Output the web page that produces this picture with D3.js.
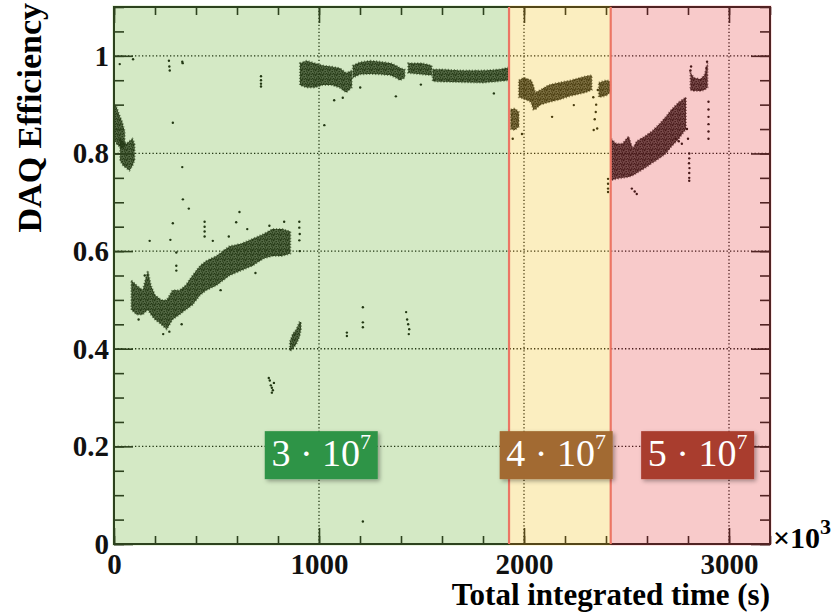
<!DOCTYPE html>
<html>
<head>
<meta charset="utf-8">
<script src="https://cdn.jsdelivr.net/npm/d3@7"></script>
<style>
  body { margin: 0; background: #fff; }
  svg { display: block; }
</style>
</head>
<body>
<div id="chart"></div>
<script>
// DAQ efficiency vs total integrated time (time axis in units of 10^3 s)
const xTicks = [0, 1000, 2000, 3000]
const yTicks = [0, 0.2, 0.4, 0.6, 0.8, 1]
const regionEdges = [0, 1927, 2423, 3200]
const regionLabels = ['3', '4', '5']

// dense parts of the scatter: [time, low, high]
const bandSegments = [
  [[0, 0.83, 0.90], [12, 0.82, 0.895], [25, 0.815, 0.88], [40, 0.81, 0.865], [52, 0.815, 0.845]],
  [[30, 0.785, 0.83], [45, 0.775, 0.825], [60, 0.77, 0.82], [75, 0.765, 0.825], [90, 0.775, 0.83], [100, 0.785, 0.82]],
  [[85, 0.48, 0.54], [110, 0.47, 0.53], [140, 0.47, 0.52], [165, 0.48, 0.56], [180, 0.47, 0.53],
    [200, 0.46, 0.51], [230, 0.45, 0.50], [257, 0.44, 0.50], [286, 0.46, 0.52], [320, 0.47, 0.52],
    [350, 0.48, 0.53], [383, 0.49, 0.55], [420, 0.51, 0.57], [451, 0.52, 0.58], [500, 0.53, 0.59],
    [563, 0.55, 0.61], [620, 0.56, 0.615], [675, 0.57, 0.625], [730, 0.585, 0.635], [773, 0.59, 0.645],
    [820, 0.59, 0.645], [860, 0.595, 0.64]],
  [[858, 0.395, 0.415], [872, 0.40, 0.43], [890, 0.41, 0.44], [905, 0.425, 0.455], [912, 0.44, 0.455]],
  [[907, 0.94, 0.985], [940, 0.935, 0.99], [980, 0.935, 0.985], [1017, 0.94, 0.98], [1060, 0.94, 0.978],
    [1100, 0.935, 0.975], [1133, 0.925, 0.965], [1160, 0.935, 0.97]],
  [[1165, 0.955, 0.98], [1200, 0.962, 0.987], [1250, 0.963, 0.99], [1300, 0.962, 0.988], [1350, 0.96, 0.985],
    [1376, 0.955, 0.98], [1395, 0.95, 0.975], [1418, 0.955, 0.972]],
  [[1435, 0.965, 0.985], [1500, 0.962, 0.985], [1550, 0.96, 0.98]],
  [[1555, 0.948, 0.972], [1600, 0.947, 0.972], [1700, 0.946, 0.97], [1800, 0.945, 0.97], [1880, 0.948, 0.972],
    [1925, 0.95, 0.976]],
  [[1935, 0.85, 0.89], [1955, 0.848, 0.892], [1975, 0.855, 0.885]],
  [[1975, 0.915, 0.95], [2000, 0.912, 0.955], [2035, 0.905, 0.95], [2045, 0.89, 0.94], [2055, 0.89, 0.925],
    [2080, 0.9, 0.93], [2120, 0.905, 0.94], [2170, 0.91, 0.945], [2230, 0.918, 0.95], [2300, 0.925, 0.958],
    [2330, 0.93, 0.96]],
  [[2365, 0.915, 0.945], [2400, 0.918, 0.95], [2420, 0.925, 0.948]],
  [[2425, 0.745, 0.83], [2450, 0.748, 0.82], [2480, 0.75, 0.82], [2510, 0.752, 0.835], [2530, 0.755, 0.81],
    [2550, 0.76, 0.825], [2590, 0.77, 0.835], [2623, 0.78, 0.845], [2660, 0.79, 0.86], [2692, 0.80, 0.875],
    [2720, 0.815, 0.89], [2755, 0.83, 0.905], [2790, 0.85, 0.915]],
  [[2812, 0.93, 0.965], [2830, 0.928, 0.955], [2860, 0.928, 0.952], [2880, 0.93, 0.96], [2895, 0.935, 0.985]]
]

// isolated points: [time, efficiency]
const scatterPoints = [
  [28, 0.983], [93, 0.993], [268, 0.99], [270, 0.978], [272, 0.97], [333, 0.988], [335, 0.985],
  [717, 0.958], [717, 0.95], [717, 0.943], [717, 0.937], [287, 0.863], [333, 0.772],
  [1026, 0.858], [1074, 0.909], [1116, 0.914], [1201, 0.935], [1375, 0.917], [1497, 0.941], [1853, 0.923],
  [336, 0.706], [365, 0.687], [287, 0.657], [174, 0.621], [275, 0.623], [442, 0.66], [442, 0.65],
  [442, 0.64], [442, 0.63], [612, 0.68], [596, 0.659], [758, 0.652], [304, 0.597], [482, 0.621],
  [304, 0.57], [304, 0.56], [904, 0.66], [904, 0.648], [906, 0.635], [904, 0.622], [906, 0.60],
  [150, 0.55], [120, 0.46], [240, 0.43], [270, 0.435], [330, 0.45], [520, 0.52], [690, 0.555],
  [830, 0.66], [650, 0.645], [560, 0.63],
  [755, 0.34], [760, 0.335], [765, 0.325], [770, 0.32], [770, 0.31], [775, 0.315], [780, 0.33],
  [1136, 0.433], [1136, 0.426], [1214, 0.485], [1214, 0.454], [1214, 0.444], [1425, 0.475],
  [1430, 0.46], [1435, 0.45], [1440, 0.44], [1438, 0.43], [1214, 0.046],
  [2137, 0.875], [2243, 0.899], [2340, 0.848], [2357, 0.851], [2345, 0.87], [2350, 0.885], [2352, 0.9],
  [2338, 0.915], [2360, 0.93], [2410, 0.748], [2410, 0.738], [2410, 0.728], [2410, 0.721],
  [1990, 0.84], [1945, 0.83],
  [2806, 0.8], [2806, 0.79], [2805, 0.78], [2807, 0.77], [2806, 0.76], [2806, 0.75], [2806, 0.744],
  [2800, 0.83], [2795, 0.85], [2900, 0.906], [2900, 0.89], [2900, 0.875], [2900, 0.86], [2900, 0.845],
  [2900, 0.83], [2740, 0.83], [2755, 0.825], [2770, 0.82], [2526, 0.728], [2540, 0.722], [2550, 0.717],
  [2812, 0.97], [2815, 0.978], [2893, 0.988], [2890, 0.975]
]

const totalWidth = 834
const totalHeight = 613
const margin = { top: 7, right: 64, bottom: 69, left: 114 }
const serif = "'Liberation Serif', 'Times New Roman', serif"
const tints = ['#70b63e', '#f2c62d', '#e84e4e']
const boxColors = ['#2f9447', '#a26a30', '#a93c2f']

const svg = d3
  .select('#chart')
  .append('svg')
  .attr('width', totalWidth)
  .attr('height', totalHeight)

const xScale = d3
  .scaleLinear()
  .domain([0, 3200])
  .range([margin.left, totalWidth - margin.right])

const yScale = d3
  .scaleLinear()
  .domain([0, 1.1])
  .range([totalHeight - margin.bottom, margin.top])

const [x0, x1] = xScale.range()
const [yb, yt] = yScale.range()

const defs = svg.append('defs')

// speckle texture so the dense bands look like piled-up points
const speckle = defs
  .append('pattern')
  .attr('id', 'speckle')
  .attr('patternUnits', 'userSpaceOnUse')
  .attr('width', 7)
  .attr('height', 5)
;[[0, 0], [2.5, 1], [5, 0.4], [1, 2.6], [3.8, 3], [6, 2.2], [0.3, 4], [2.6, 4.2], [5.2, 3.9]].forEach(([sx, sy]) => {
  speckle.append('rect').attr('x', sx).attr('y', sy).attr('width', 1.4).attr('height', 1.2).attr('fill', '#000')
})

// grid
const grid = svg.append('g').attr('stroke', '#000').attr('stroke-width', 1.3).attr('stroke-dasharray', '1.3,2.2')
grid
  .selectAll('.gx')
  .data(xTicks.slice(1))
  .join('line')
  .attr('x1', (d) => xScale(d))
  .attr('x2', (d) => xScale(d))
  .attr('y1', yb)
  .attr('y2', yt)
grid
  .selectAll('.gy')
  .data(yTicks.slice(1))
  .join('line')
  .attr('x1', x0)
  .attr('x2', x1)
  .attr('y1', (d) => yScale(d))
  .attr('y2', (d) => yScale(d))

// data
const band = d3
  .area()
  .x((d) => xScale(d[0]))
  .y0((d) => yScale(d[1]))
  .y1((d) => yScale(d[2]))

const bands = svg.append('g')
bands
  .selectAll('path.core')
  .data(bandSegments)
  .join('path')
  .attr('class', 'core')
  .attr('d', band)
  .attr('fill', '#000')
  .attr('fill-opacity', 0.72)
  .attr('stroke', '#000')
  .attr('stroke-width', 2)
  .attr('stroke-dasharray', '1.2,1.8')
  .attr('stroke-opacity', 0.55)
bands
  .selectAll('path.grain')
  .data(bandSegments)
  .join('path')
  .attr('class', 'grain')
  .attr('d', band)
  .attr('fill', 'url(#speckle)')

svg
  .append('g')
  .selectAll('circle')
  .data(scatterPoints)
  .join('circle')
  .attr('cx', (d) => xScale(d[0]))
  .attr('cy', (d) => yScale(d[1]))
  .attr('r', 1.2)
  .attr('fill', '#000')

// frame and inside ticks
const tickColor = '#111'
function styleAxis(g) {
  g.select('.domain').remove()
  g.attr('color', tickColor)
  g.selectAll('.tick line').attr('stroke-width', 1.6)
  g.attr('font-family', serif).attr('font-size', 29).attr('font-weight', 'bold')
}
const minorY = d3.range(0, 23).map((i) => i * 0.05)
const minorX = d3.range(0, 17).map((i) => i * 200)

svg.append('g').attr('transform', `translate(${x0},0)`)
  .call(d3.axisLeft(yScale).tickValues(yTicks).tickSize(-19).tickPadding(5).tickFormat(d3.format('~g')))
  .call(styleAxis)
svg.append('g').attr('transform', `translate(${x0},0)`)
  .call(d3.axisLeft(yScale).tickValues(minorY).tickSize(-10).tickFormat(''))
  .call(styleAxis)
svg.append('g').attr('transform', `translate(${x1},0)`)
  .call(d3.axisRight(yScale).tickValues(yTicks).tickSize(-19).tickFormat(''))
  .call(styleAxis)
svg.append('g').attr('transform', `translate(${x1},0)`)
  .call(d3.axisRight(yScale).tickValues(minorY).tickSize(-10).tickFormat(''))
  .call(styleAxis)
svg.append('g').attr('transform', `translate(0,${yb})`)
  .call(d3.axisBottom(xScale).tickValues(xTicks).tickSize(-16).tickPadding(9).tickFormat(d3.format('d')))
  .call(styleAxis)
svg.append('g').attr('transform', `translate(0,${yb})`)
  .call(d3.axisBottom(xScale).tickValues(minorX).tickSize(-8).tickFormat(''))
  .call(styleAxis)
svg.append('g').attr('transform', `translate(0,${yt})`)
  .call(d3.axisTop(xScale).tickValues(xTicks).tickSize(-16).tickFormat(''))
  .call(styleAxis)
svg.append('g').attr('transform', `translate(0,${yt})`)
  .call(d3.axisTop(xScale).tickValues(minorX).tickSize(-8).tickFormat(''))
  .call(styleAxis)

svg
  .append('rect')
  .attr('x', x0)
  .attr('y', yt)
  .attr('width', x1 - x0)
  .attr('height', yb - yt)
  .attr('fill', 'none')
  .attr('stroke', tickColor)
  .attr('stroke-width', 2)

// coloured regions laid over the plot
const regions = regionLabels.map((label, i) => ({ label, start: regionEdges[i], end: regionEdges[i + 1], i }))

svg
  .append('g')
  .selectAll('rect')
  .data(regions)
  .join('rect')
  .attr('x', (d) => xScale(d.start) - (d.i === 0 ? 1.5 : 0))
  .attr('y', yt - 1.5)
  .attr('width', (d) => xScale(d.end) - xScale(d.start) + (d.i === 0 || d.i === 2 ? 1.5 : 0))
  .attr('height', yb - yt + 3)
  .attr('fill', (d) => tints[d.i])
  .attr('fill-opacity', 0.3)

svg
  .append('g')
  .selectAll('line')
  .data(regionEdges.slice(1, -1))
  .join('line')
  .attr('x1', (d) => xScale(d))
  .attr('x2', (d) => xScale(d))
  .attr('y1', yt)
  .attr('y2', yb)
  .attr('stroke', '#ec7564')
  .attr('stroke-width', 2.2)

// labels in the regions
defs
  .append('filter')
  .attr('id', 'shadow')
  .attr('x', '-20%').attr('y', '-20%').attr('width', '140%').attr('height', '150%')
  .append('feDropShadow')
  .attr('dx', 2).attr('dy', 2).attr('stdDeviation', 2)
  .attr('flood-color', '#000').attr('flood-opacity', 0.35)

const labelCenters = [1011, 2157, 2847]
const boxW = 113
const boxH = 48
const labelGroups = svg
  .append('g')
  .selectAll('g')
  .data(regions)
  .join('g')
  .attr('transform', (d) => `translate(${xScale(labelCenters[d.i])},${yScale(0.182)})`)

labelGroups
  .append('rect')
  .attr('x', -boxW / 2)
  .attr('y', -boxH / 2)
  .attr('width', boxW)
  .attr('height', boxH)
  .attr('fill', (d) => boxColors[d.i])
  .attr('filter', 'url(#shadow)')

const labelText = labelGroups
  .append('text')
  .attr('y', 11)
  .attr('text-anchor', 'middle')
  .attr('font-family', serif)
  .attr('font-size', 38)
  .attr('fill', '#fff')
labelText.append('tspan').text((d) => `${d.label} \u00b7 10`)
labelText.append('tspan').attr('dy', -17).attr('font-size', 22).text('7')

// axis titles
svg
  .append('text')
  .attr('transform', `translate(41,3) rotate(-90)`)
  .attr('text-anchor', 'end')
  .attr('font-family', serif)
  .attr('font-size', 34)
  .attr('font-weight', 'bold')
  .text('DAQ Efficiency')

svg
  .append('text')
  .attr('x', x1)
  .attr('y', 605)
  .attr('text-anchor', 'end')
  .attr('font-family', serif)
  .attr('font-size', 31)
  .attr('font-weight', 'bold')
  .text('Total integrated time (s)')

const expo = svg
  .append('text')
  .attr('x', x1 + 3)
  .attr('y', 548)
  .attr('font-family', serif)
  .attr('font-size', 30)
  .attr('font-weight', 'bold')
expo.append('tspan').text('\u00d710')
expo.append('tspan').attr('dy', -14).attr('font-size', 22).text('3')
</script>
</body>
</html>
